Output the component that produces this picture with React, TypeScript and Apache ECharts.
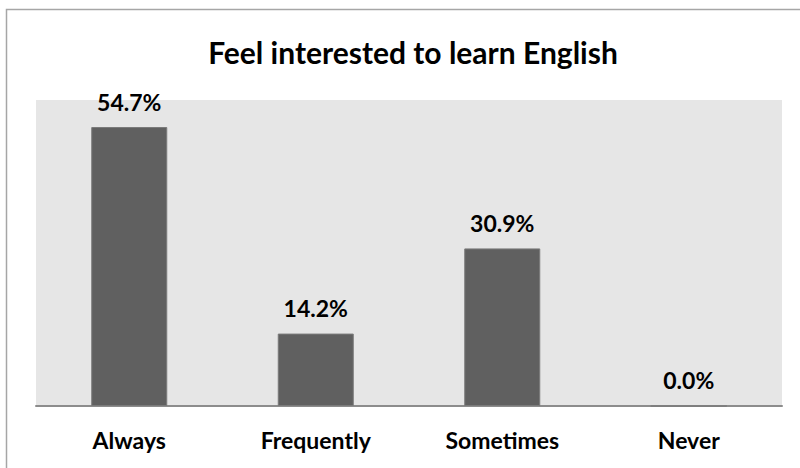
import React, { useEffect, useRef } from "react";
import * as echarts from "echarts";

const categories = ["Always", "Frequently", "Sometimes", "Never"];
const values = [54.7, 14.2, 30.9, 0.0];
const titleText = "Feel interested to learn English";

export default function App() {
  const ref = useRef<HTMLDivElement>(null);
  useEffect(() => {
    if (!ref.current) return;
    const chart = echarts.init(ref.current, null, { renderer: "svg" });
    const font = "Lato, 'Open Sans', sans-serif";
    chart.setOption({
      animation: false,
      backgroundColor: "#ffffff",
      title: {
        text: titleText,
        left: 408,
        textAlign: "center",
        top: 32,
        textStyle: { fontFamily: font, fontSize: 30, fontWeight: "bold", color: "#000" },
      },
      graphic: [
        {
          type: "rect",
          shape: { x: 6.5, y: 9.5, width: 820, height: 480 },
          style: { fill: "none", stroke: "#a6a6a6", lineWidth: 1.5 },
          silent: true,
        },
      ],
      grid: {
        left: 36,
        right: 18,
        top: 100,
        bottom: 62,
        show: true,
        backgroundColor: "#e6e6e6",
        borderWidth: 0,
      },
      xAxis: {
        type: "category",
        data: categories,
        axisLine: { show: true, lineStyle: { color: "#8c8c8c", width: 2 } },
        axisTick: { show: false },
        axisLabel: {
          margin: 22,
          fontFamily: font,
          fontSize: 23,
          fontWeight: "bold",
          color: "#000",
        },
      },
      yAxis: {
        type: "value",
        min: 0,
        max: 60,
        show: false,
        splitLine: { show: false },
      },
      series: [
        {
          type: "bar",
          data: values,
          barWidth: 76,
          itemStyle: { color: "#606060", borderColor: "#7a7a7a", borderWidth: 1 },
          label: {
            show: true,
            position: "top",
            distance: 14,
            formatter: (p: any) => Number(p.value).toFixed(1) + "%",
            fontFamily: font,
            fontSize: 23,
            fontWeight: "bold",
            color: "#000",
          },
        },
      ],
    });
    return () => chart.dispose();
  }, []);
  return (
    <div
      ref={ref}
      style={{ position: "fixed", left: 0, top: 0, width: 800, height: 468 }}
    />
  );
}
